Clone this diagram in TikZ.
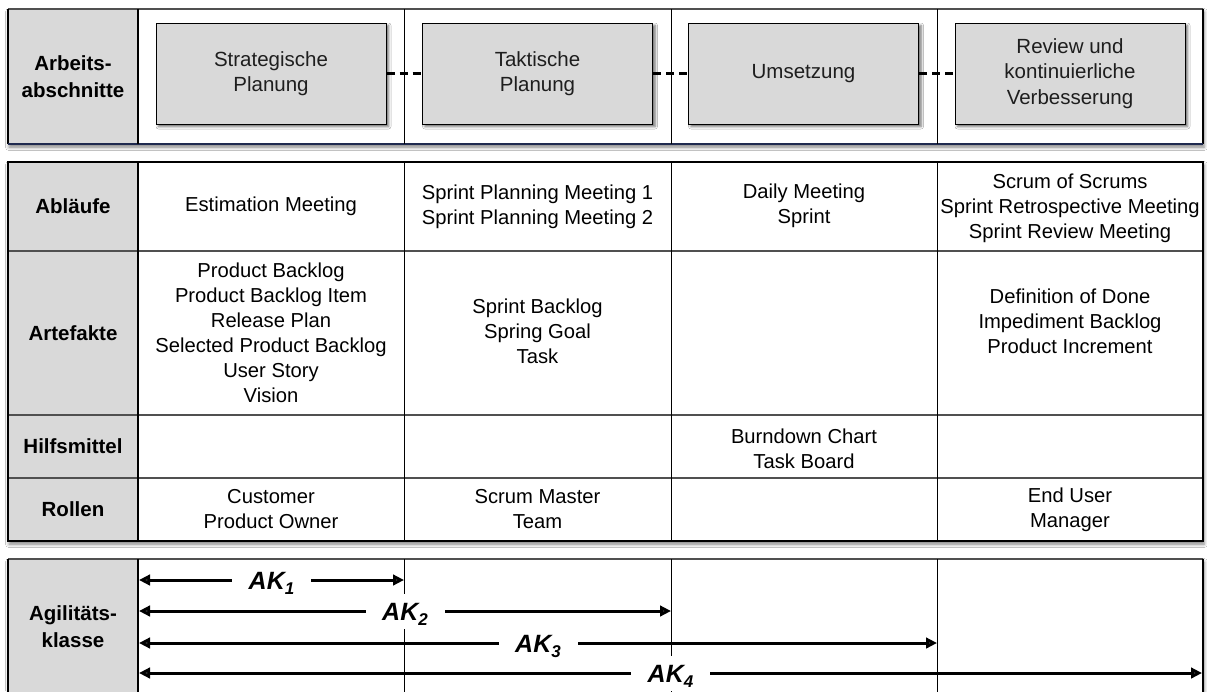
\documentclass[tikz,border=0pt]{standalone}
\usepackage{fontspec}
\setmainfont{Liberation Sans}
\usetikzlibrary{arrows.meta,shadows.blur,calc}

\definecolor{cellgray}{HTML}{D9D9D9}
\definecolor{edgenavy}{HTML}{1F2A4F}
\definecolor{boxtext}{HTML}{1E1E1E}
\definecolor{rulegray}{HTML}{505050}

\tikzset{
  body/.style={font=\fontsize{20.2}{25}\selectfont, align=center, inner sep=0pt},
  head/.style={font=\fontsize{20.5}{27}\selectfont\bfseries, align=center, inner sep=0pt},
  phase/.style={draw=black, line width=1pt, fill=cellgray, text=boxtext,
    minimum width=230, minimum height=101, inner sep=0pt, align=center,
    font=\fontsize{20.5}{25.5}\selectfont,
    blur shadow={shadow xshift=2.5pt, shadow yshift=-2.5pt, shadow blur radius=2.5pt, shadow opacity=60}},
  panel/.style={fill=white,
    blur shadow={shadow xshift=1pt, shadow yshift=-3pt, shadow blur radius=3.5pt, shadow opacity=50}},
  outer/.style={line width=1.5pt, draw=black},
  divider/.style={line width=0.9pt, draw=black},
  rowrule/.style={line width=1.2pt, draw=rulegray},
  phaselink/.style={line width=2.8pt, dash pattern=on 8pt off 5pt},
  span/.style={line width=3pt, {Triangle[length=11pt,width=10.5pt]}-{Triangle[length=11pt,width=10.5pt]}},
  aklabel/.style={fill=white, minimum width=79, minimum height=35, inner sep=0pt,
    text height=18pt, text depth=0pt, font=\fontsize{25}{30}\selectfont\bfseries\itshape},
}
\newcommand{\aksub}[1]{AK\raisebox{-5.5pt}{\fontsize{17}{17}\selectfont #1}}

\begin{document}
\begin{tikzpicture}[x=1pt,y=-1pt]
\useasboundingbox (0,0) rectangle (1207,691);
\clip (0,0) rectangle (1207,691);
\fill[white] (0,0) rectangle (1207,691);

% ---------- work phases ----------
\path[panel] (8,9) rectangle (1203,144);
\fill[cellgray] (8,9) rectangle (138,144);
\draw[line width=1.2pt, draw=rulegray] (8,9) -- (1203,9);
\draw[outer] (8,9) -- (8,144);
\draw[outer] (1203,9) -- (1203,144);
\draw[line width=1.5pt, draw=edgenavy] (8,144) -- (1203,144);
\draw[line width=1.2pt] (138,9) -- (138,144);
\foreach \x in {404,671,937} \draw[divider] (\x,9) -- (\x,144);

\node[head] (arb) at (73,77) {Arbeits-\\abschnitte};

\node[phase] (p1) at (271,73.5) {Strategische\\Planung};
\node[phase] (p2) at (537.5,73.5) {Taktische\\Planung};
\node[phase] (p3) at (803.5,73.5) {Umsetzung};
\node[phase] (p4) at (1070,73.5) {Review und\\kontinuierliche\\Verbesserung};

\draw[phaselink] (p1.east) -- (p2.west);
\draw[phaselink] (p2.east) -- (p3.west);
\draw[phaselink] (p3.east) -- (p4.west);

% ---------- elements table ----------
\path[panel] (8,162) rectangle (1203,541);
\fill[cellgray] (8,162) rectangle (138,541);
\foreach \y in {251,415,478} \draw[rowrule] (8,\y) -- (1203,\y);
\foreach \x in {404,671,937} \draw[divider] (\x,162) -- (\x,541);
\draw[line width=1.2pt] (138,162) -- (138,541);
\draw[outer] (8,162) rectangle (1203,541);

\node[head] (hab) at (73,206.5) {Abläufe};
\node[head] (hart) at (73,333) {Artefakte};
\node[head] (hhilf) at (73,446.5) {Hilfsmittel};
\node[head] (hrol) at (73,509.5) {Rollen};

\node[body] (ab1) at (271,206.5) {Estimation Meeting};
\node[body] (ab2) at (537.5,207) {Sprint Planning Meeting 1\\Sprint Planning Meeting 2};
\node[body] (ab3) at (804,206) {Daily Meeting\\Sprint};
\node[body] (ab4) at (1070,208) {Scrum of Scrums\\Sprint Retrospective Meeting\\Sprint Review Meeting};

\node[body] (ar1) at (271,333) {Product Backlog\\Product Backlog Item\\Release Plan\\Selected Product Backlog\\User Story\\Vision};
\node[body] (ar2) at (537.5,331) {Sprint Backlog\\Spring Goal\\Task};
\node[body] (ar4) at (1070,321) {Definition of Done\\Impediment Backlog\\Product Increment};

\node[body] (hi3) at (804,449) {Burndown Chart\\Task Board};

\node[body] (ro1) at (271,509.5) {Customer\\Product Owner};
\node[body] (ro2) at (537.5,509.5) {Scrum Master\\Team};
\node[body] (ro4) at (1070,509.5) {End User\\Manager};

% ---------- agility classes ----------
\path[panel] (8,559) rectangle (1203,720);
\fill[cellgray] (8,559) rectangle (138,720);
\draw[line width=1.2pt, draw=rulegray] (8,559) -- (1203,559);
\draw[outer] (8,559) -- (8,720);
\draw[outer] (1203,559) -- (1203,720);
\draw[line width=1.2pt] (138,559) -- (138,720);
\foreach \x in {404,671,937} \draw[divider] (\x,559) -- (\x,720);

\node[head] (agi) at (73,627) {Agilitäts-\\klasse};

\coordinate (a1s) at (139,580);  \coordinate (a1e) at (404,580);
\coordinate (a2s) at (139,611);  \coordinate (a2e) at (671,611);
\coordinate (a3s) at (139,643);  \coordinate (a3e) at (937,643);
\coordinate (a4s) at (139,673);  \coordinate (a4e) at (1202,673);

\draw[span] (a1s) -- (a1e);
\draw[span] (a2s) -- (a2e);
\draw[span] (a3s) -- (a3e);
\draw[span] (a4s) -- (a4e);

\node[aklabel] (ak1) at ($(a1s)!0.5!(a1e)$) {\aksub{1}};
\node[aklabel] (ak2) at ($(a2s)!0.5!(a2e)$) {\aksub{2}};
\node[aklabel] (ak3) at ($(a3s)!0.5!(a3e)$) {\aksub{3}};
\node[aklabel] (ak4) at ($(a4s)!0.5!(a4e)$) {\aksub{4}};
\end{tikzpicture}
\end{document}
